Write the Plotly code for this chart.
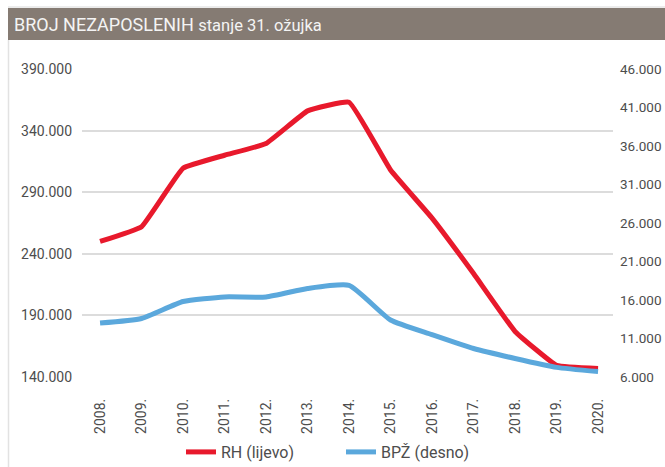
import plotly.graph_objects as go

years = ["2008.", "2009.", "2010.", "2011.", "2012.", "2013.", "2014.",
         "2015.", "2016.", "2017.", "2018.", "2019.", "2020."]
rh_values = [250000, 262000, 309500, 320000, 329500, 356000, 363000,
             308000, 269000, 224000, 177000, 149500, 147000]
bpz_values = [13000, 13600, 15800, 16400, 16400, 17500, 17900,
              13400, 11500, 9700, 8400, 7250, 6700]

left_ticks = [140000, 190000, 240000, 290000, 340000, 390000]
left_ticktext = ["140.000", "190.000", "240.000", "290.000", "340.000", "390.000"]
right_ticks = [6000, 11000, 16000, 21000, 26000, 31000, 36000, 41000, 46000]
right_ticktext = ["6.000", "11.000", "16.000", "21.000", "26.000", "31.000",
                  "36.000", "41.000", "46.000"]

W, H = 665, 467
L, R, T, B = 82, 52, 69, 90
PW, PH = W - L - R, H - T - B


def px(x):
    return (x - L) / PW


def py(y):
    return (H - B - y) / PH


FONT = "Roboto, sans-serif"
TXT = "#4d4d4d"

xs = list(range(len(years)))

fig = go.Figure()
fig.add_trace(go.Scatter(
    x=xs, y=rh_values, name="RH (lijevo)", mode="lines",
    line=dict(color="#e8192c", width=5, shape="spline", smoothing=0.3),
    yaxis="y"))
fig.add_trace(go.Scatter(
    x=xs, y=bpz_values, name="BPŽ (desno)", mode="lines",
    line=dict(color="#5ba8dc", width=5, shape="spline", smoothing=0.5),
    yaxis="y2"))

fig.update_layout(
    width=W, height=H,
    margin=dict(l=L, r=R, t=T, b=B, autoexpand=False),
    paper_bgcolor="white", plot_bgcolor="white",
    font=dict(family=FONT, color=TXT, size=13),
    xaxis=dict(
        tickmode="array", tickvals=xs, ticktext=years, automargin=False,
        range=[-0.435, 12.36], tickangle=-90, showgrid=False,
        showline=False, zeroline=False, ticks="", ticklabelstandoff=18,
        tickfont=dict(size=14, family=FONT, color=TXT)),
    yaxis=dict(
        range=[140000, 390000], tickmode="array", tickvals=left_ticks,
        ticktext=left_ticktext, showgrid=True, gridcolor="#dcdcdc",
        gridwidth=1.5, zeroline=False, showline=False, ticks="",
        automargin=False,
        ticklabelstandoff=9, tickfont=dict(size=14, family=FONT, color=TXT)),
    yaxis2=dict(
        range=[6000, 46000], tickmode="array", tickvals=right_ticks,
        ticktext=right_ticktext, overlaying="y", side="right",
        showgrid=False, zeroline=False, showline=False, ticks="",
        automargin=False,
        ticklabelstandoff=6, tickfont=dict(size=13.5, family=FONT, color=TXT)),
    legend=dict(
        orientation="h", x=px(341), xanchor="center", y=py(452),
        yanchor="middle", font=dict(size=16, family=FONT, color=TXT),
        entrywidth=115, entrywidthmode="pixels",
        bgcolor="rgba(0,0,0,0)"),
    showlegend=True,
)

shapes = [
    dict(type="rect", xref="paper", yref="paper",
         x0=px(8), x1=px(668), y0=py(40), y1=py(8),
         fillcolor="#857b73", line=dict(width=0), layer="above"),
    dict(type="line", xref="paper", yref="paper",
         x0=px(8), x1=px(668), y0=py(7), y1=py(7),
         line=dict(color="#d8d8d8", width=1)),
    dict(type="line", xref="paper", yref="paper",
         x0=px(8.5), x1=px(8.5), y0=py(40), y1=py(470),
         line=dict(color="#e2e2e2", width=1.5)),
]
fig.update_layout(shapes=shapes)

fig.add_annotation(
    xref="paper", yref="paper", x=px(12), y=py(24), xanchor="left",
    yanchor="middle", showarrow=False,
    text="<span style='font-size:18px'>BROJ NEZAPOSLENIH</span> "
         "<span style='font-size:16.5px'>stanje 31. ožujka</span>",
    font=dict(family=FONT, color="#f4f4f4", size=18))

fig.write_html(
    "out.html",
    config={"displayModeBar": False},
    post_script="document.body.style.margin='0';document.body.style.padding='0';")
